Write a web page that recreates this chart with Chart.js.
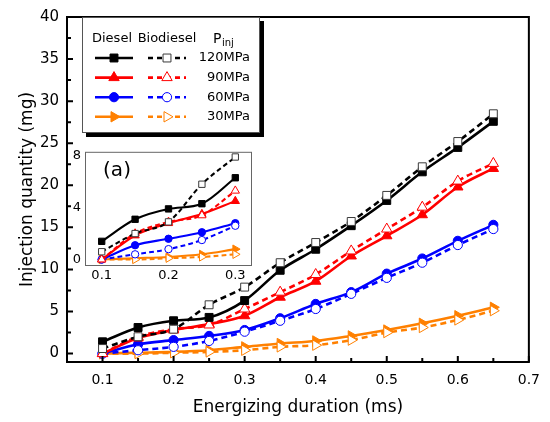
<!DOCTYPE html>
<html>
<head>
<meta charset="utf-8">
<script src="https://cdn.jsdelivr.net/npm/chart.js@4.4.1/dist/chart.umd.min.js"></script>
<style>
  body { margin: 0; background: #fff; }
  #wrap { position: relative; width: 550px; height: 422px; }
  #inset { position: absolute; left: 60px; top: 140px; }
</style>
</head>
<body>
<div id="wrap">
  <canvas id="main" width="550" height="422"></canvas>
  <canvas id="inset" width="200" height="146"></canvas>
</div>
<script>
// energizing duration (ms)
const durations = [0.1, 0.15, 0.2, 0.25, 0.3, 0.35, 0.4, 0.45, 0.5, 0.55, 0.6, 0.65];

// injection quantity (mg)
const diesel120 = [1.4, 3.1, 3.9, 4.3, 6.3, 9.9, 12.4, 15.2, 18.2, 21.6, 24.5, 27.6];
const bio120    = [0.6, 2.0, 2.9, 5.8, 7.9, 10.8, 13.2, 15.7, 18.8, 22.2, 25.2, 28.5];
const diesel90  = [0, 1.85, 2.8, 3.5, 4.5, 6.7, 8.6, 11.6, 14.0, 16.5, 19.8, 22.0];
const bio90     = [0, 2.0, 2.9, 3.4, 5.3, 7.3, 9.4, 12.2, 14.8, 17.4, 20.5, 22.6];
const diesel60  = [0, 1.1, 1.6, 2.1, 2.8, 4.2, 5.9, 7.3, 9.5, 11.3, 13.4, 15.3];
const bio60     = [0, 0.4, 0.8, 1.5, 2.6, 3.9, 5.3, 7.1, 9.0, 10.8, 12.9, 14.8];
const diesel30  = [0, 0.1, 0.2, 0.4, 0.8, 1.2, 1.5, 2.1, 2.8, 3.6, 4.5, 5.5];
const bio30     = [0, 0, 0.1, 0.2, 0.4, 0.8, 1.0, 1.6, 2.5, 3.1, 4.0, 5.1];

const pressures = ['120MPa', '90MPa', '60MPa', '30MPa'];

// tick labels
const xTicks = [0.1, 0.2, 0.3, 0.4, 0.5, 0.6, 0.7];
const yTicks = [0, 5, 10, 15, 20, 25, 30, 35, 40];
const insetXTicks = [0.1, 0.2, 0.3];
const insetYTicks = [0, 4, 8];
const insetCount = 5; // points up to 0.3 ms

const FONT = 'DejaVu Sans';

// one style per pressure
const styles = [
  { color: '#000000', open: '#3a3a3a', point: 'rect', rot: 0, r: 5.6 },
  { color: '#ff0000', open: '#ff0000', point: 'triangle', rot: 0, r: 6 },
  { color: '#0000ff', open: '#0000ff', point: 'circle', rot: 0, r: 4.6 },
  { color: '#ff8000', open: '#ff8000', point: 'triangle', rot: 90, r: 6 }
];
const dieselSeries = [diesel120, diesel90, diesel60, diesel30];
const bioSeries = [bio120, bio90, bio60, bio30];

function pts(arr, n) {
  return durations.slice(0, n).map((x, i) => ({ x: x, y: arr[i] }));
}

function buildSets(n, k) {
  const sets = [];
  styles.forEach((s, i) => {
    sets.push({
      label: 'Biodiesel ' + pressures[i],
      data: pts(bioSeries[i], n),
      borderColor: s.color,
      borderWidth: 2.6 * k,
      borderDash: [6 * k, 4 * k],
      pointStyle: s.point,
      rotation: s.rot,
      pointRadius: s.r * k,
      pointBackgroundColor: '#ffffff',
      pointBorderColor: s.open,
      pointBorderWidth: 1,
      cubicInterpolationMode: 'monotone'
    });
    sets.push({
      label: 'Diesel ' + pressures[i],
      data: pts(dieselSeries[i], n),
      borderColor: s.color,
      borderWidth: 2.6 * k,
      pointStyle: s.point,
      rotation: s.rot,
      pointRadius: s.r * k,
      pointBackgroundColor: s.color,
      pointBorderColor: s.color,
      pointBorderWidth: 1,
      cubicInterpolationMode: 'monotone'
    });
  });
  return sets;
}

// frame + inward ticks
const frameTicks = {
  id: 'frameTicks',
  afterDraw(chart) {
    const { ctx, chartArea: a, scales: { x, y } } = chart;
    ctx.save();
    ctx.strokeStyle = '#000';
    ctx.lineWidth = 2;
    ctx.beginPath();
    for (let i = 0; i < xTicks.length; i++) {
      const px = x.getPixelForValue(xTicks[i]);
      ctx.moveTo(px, a.bottom); ctx.lineTo(px, a.bottom - 6);
      if (i > 0) {
        const m = x.getPixelForValue((xTicks[i] + xTicks[i - 1]) / 2);
        ctx.moveTo(m, a.bottom); ctx.lineTo(m, a.bottom - 4);
      }
    }
    for (let i = 0; i < yTicks.length; i++) {
      const py = y.getPixelForValue(yTicks[i]);
      ctx.moveTo(a.left, py); ctx.lineTo(a.left + 6, py);
      if (i > 0) {
        const m = y.getPixelForValue((yTicks[i] + yTicks[i - 1]) / 2);
        ctx.moveTo(a.left, m); ctx.lineTo(a.left + 4, m);
      }
    }
    ctx.stroke();
    ctx.strokeRect(a.left, a.top, a.right - a.left, a.bottom - a.top);
    ctx.restore();
  }
};

// legend box with shadow
const legendBox = {
  id: 'legendBox',
  afterDraw(chart) {
    const ctx = chart.ctx;
    const bx = 82, by = 17, bw = 178, bh = 116;
    ctx.save();
    ctx.fillStyle = '#000';
    ctx.fillRect(bx + 4, by + 4, bw, bh);
    ctx.fillStyle = '#fff';
    ctx.fillRect(bx, by, bw, bh);
    ctx.strokeStyle = '#555';
    ctx.lineWidth = 1;
    ctx.strokeRect(bx + 0.5, by + 0.5, bw - 1, bh - 1);

    ctx.fillStyle = '#000';
    ctx.font = '13px "' + FONT + '"';
    ctx.textBaseline = 'middle';
    ctx.textAlign = 'center';
    ctx.fillText('Diesel', 112, 39);
    ctx.fillText('Biodiesel', 167, 39);
    ctx.textAlign = 'left';
    ctx.font = '14px "' + FONT + '"';
    ctx.fillText('P', 213, 39);
    ctx.font = '10px "' + FONT + '"';
    ctx.fillText('inj', 222, 43);

    styles.forEach((s, i) => {
      const ry = 58 + i * 19.6;
      ctx.lineWidth = 2.6;
      ctx.strokeStyle = s.color;
      ctx.setLineDash([]);
      ctx.beginPath(); ctx.moveTo(95, ry); ctx.lineTo(133, ry); ctx.stroke();
      ctx.setLineDash([5, 4]);
      ctx.beginPath(); ctx.moveTo(148, ry); ctx.lineTo(186, ry); ctx.stroke();
      ctx.setLineDash([]);
      const opt = { pointStyle: s.point, rotation: s.rot, radius: s.r, borderWidth: 1 };
      ctx.lineWidth = 1;
      ctx.fillStyle = s.color;
      ctx.strokeStyle = s.color;
      Chart.helpers.drawPoint(ctx, opt, 114, ry);
      ctx.fillStyle = '#fff';
      ctx.strokeStyle = s.open;
      Chart.helpers.drawPoint(ctx, opt, 167, ry);
      ctx.fillStyle = '#000';
      ctx.font = '13px "' + FONT + '"';
      ctx.textAlign = 'right';
      ctx.fillText(pressures[i], 250, ry);
    });
    ctx.restore();
  }
};

new Chart(document.getElementById('main'), {
  type: 'line',
  data: { datasets: buildSets(durations.length, 1) },
  options: {
    responsive: false,
    animation: false,
    devicePixelRatio: 1,
    layout: { padding: { left: 5, right: 19, top: 15, bottom: 0 } },
    plugins: { legend: { display: false }, tooltip: { enabled: false } },
    scales: {
      x: {
        type: 'linear', min: 0.05, max: 0.7,
        afterBuildTicks: s => { s.ticks = xTicks.map(v => ({ value: v })); },
        afterFit: s => { s.height = 60; },
        grid: { display: false, drawTicks: false },
        border: { display: false },
        ticks: { padding: 10, color: '#000', font: { family: FONT, size: 14 }, callback: v => v.toFixed(1) },
        title: { display: true, text: 'Energizing duration (ms)', color: '#000', font: { family: FONT, size: 17 }, padding: { top: 0, bottom: 4 } }
      },
      y: {
        min: -1, max: 40,
        afterBuildTicks: s => { s.ticks = yTicks.map(v => ({ value: v })); },
        afterFit: s => { s.width = 62; },
        grid: { display: false, drawTicks: false },
        border: { display: false },
        ticks: { padding: 8, color: '#000', font: { family: FONT, size: 15 } },
        title: { display: true, text: 'Injection quantity (mg)', color: '#000', font: { family: FONT, size: 17 }, padding: { top: 12, bottom: 0 } }
      }
    }
  },
  plugins: [frameTicks, legendBox]
});

// inset: zoom on 0.1–0.3 ms
const insetFrame = {
  id: 'insetFrame',
  afterDraw(chart) {
    const { ctx, chartArea: a } = chart;
    ctx.save();
    ctx.strokeStyle = '#666';
    ctx.lineWidth = 1;
    ctx.strokeRect(a.left + 0.5, a.top + 0.5, a.right - a.left - 1, a.bottom - a.top - 1);
    ctx.fillStyle = '#000';
    ctx.font = '20px "' + FONT + '"';
    ctx.textAlign = 'center';
    ctx.textBaseline = 'middle';
    ctx.fillText('(a)', a.left + 32, a.top + 19);
    ctx.restore();
  }
};

new Chart(document.getElementById('inset'), {
  type: 'line',
  data: { datasets: buildSets(insetCount, 0.8) },
  options: {
    responsive: false,
    animation: false,
    devicePixelRatio: 1,
    layout: { padding: { left: 0, right: 8, top: 4, bottom: 0 } },
    plugins: { legend: { display: false }, tooltip: { enabled: false } },
    scales: {
      x: {
        type: 'linear', min: 0.075, max: 0.325,
        afterBuildTicks: s => { s.ticks = insetXTicks.map(v => ({ value: v })); },
        afterFit: s => { s.height = 20; },
        grid: { display: false, drawTicks: false },
        border: { display: false },
        ticks: { padding: 2, color: '#000', font: { family: FONT, size: 13 }, callback: v => v.toFixed(1) }
      },
      y: {
        min: -0.5, max: 8.3,
        afterBuildTicks: s => { s.ticks = insetYTicks.map(v => ({ value: v })); },
        afterFit: s => { s.width = 25; },
        grid: { display: false, drawTicks: false },
        border: { display: false },
        ticks: { padding: 4, color: '#000', font: { family: FONT, size: 13 } }
      }
    }
  },
  plugins: [insetFrame]
});
</script>
</body>
</html>
